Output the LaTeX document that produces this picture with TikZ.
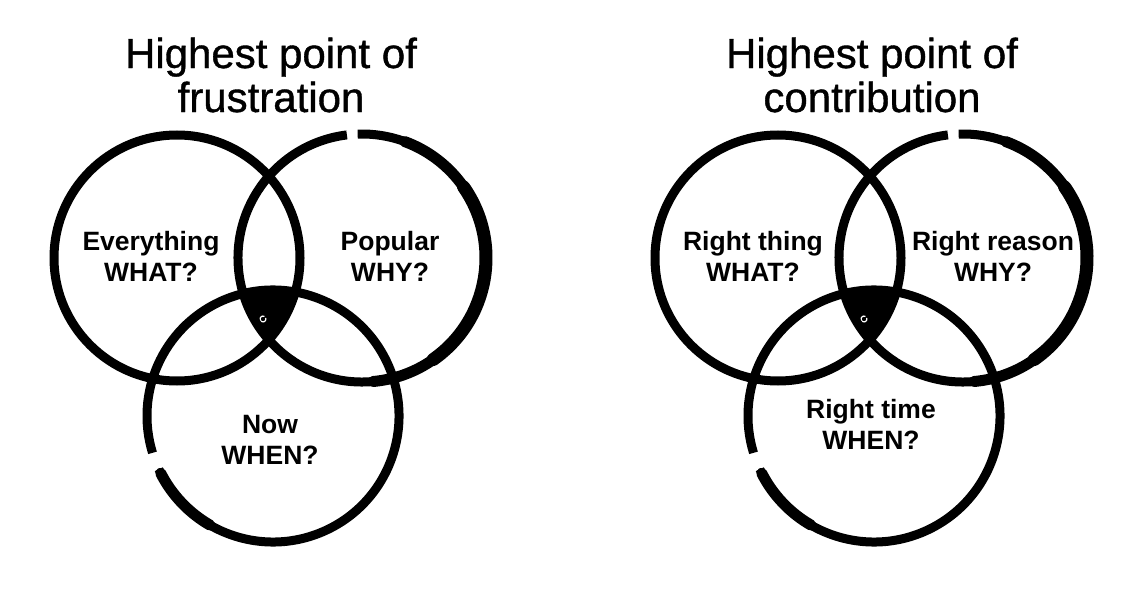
\documentclass[tikz,border=0pt]{standalone}
\usepackage{fontspec}
\setmainfont{Liberation Sans}
\newfontfamily\titlefont[FakeBold=0.9]{Liberation Sans}
\begin{document}
\begin{tikzpicture}[x=1pt, y=1pt,
    venn ring/.style={line width=9pt},
    brush/.style={line width=13pt, line cap=round},
    label node/.style={align=center, font=\fontsize{26.5}{31}\selectfont\bfseries},
    title node/.style={align=center, font=\titlefont\fontsize{42}{44}\selectfont}]
        \useasboundingbox (0,0) rectangle (1136,598);

          % frustration
          \coordinate (w1) at (177,340);
          \coordinate (y1) at (362,340);
          \coordinate (n1) at (273,182);
          \begin{scope}
            \clip (w1) circle (123);
            \clip (y1) circle (124);
            \fill (n1) circle (126);
          \end{scope}
          \draw[white, line width=1.2pt] (263,279) ++(60:3) arc[start angle=60, end angle=380, radius=3];
          \draw[venn ring] (w1) circle (123);
          \draw[venn ring] (y1) ++(97:124) arc[start angle=97, end angle=452, radius=124];
          \draw[brush, line width=11pt] (y1) ++(-85:124) arc[start angle=-85, end angle=70, radius=124];
          \draw[brush] (y1) ++(-55:124) arc[start angle=-55, end angle=35, radius=124];
          \draw[venn ring] (n1) ++(205:126) arc[start angle=205, end angle=557, radius=126];
          \draw[brush, line width=11pt] (n1) ++(207:126) arc[start angle=207, end angle=240, radius=126];

          \node[title node] (1) at (271,523) {Highest point of\\frustration};
          \node[label node] (2) at (151,342) {Everything\\WHAT?};
          \node[label node] (3) at (390,342) {Popular\\WHY?};
          \node[label node] (4) at (270,158) {Now\\WHEN?};

          % contribution
          \coordinate (w2) at (778,340);
          \coordinate (y2) at (963,340);
          \coordinate (n2) at (874,182);
          \begin{scope}
            \clip (w2) circle (123);
            \clip (y2) circle (124);
            \fill (n2) circle (126);
          \end{scope}
          \draw[white, line width=1.2pt] (864,279) ++(60:3) arc[start angle=60, end angle=380, radius=3];
          \draw[venn ring] (w2) circle (123);
          \draw[venn ring] (y2) ++(97:124) arc[start angle=97, end angle=452, radius=124];
          \draw[brush, line width=11pt] (y2) ++(-85:124) arc[start angle=-85, end angle=70, radius=124];
          \draw[brush] (y2) ++(-55:124) arc[start angle=-55, end angle=35, radius=124];
          \draw[venn ring] (n2) ++(205:126) arc[start angle=205, end angle=557, radius=126];
          \draw[brush, line width=11pt] (n2) ++(207:126) arc[start angle=207, end angle=240, radius=126];

          \node[title node] (5) at (872,523) {Highest point of\\contribution};
          \node[label node] (6) at (753,342) {Right thing\\WHAT?};
          \node[label node] (7) at (993,342) {Right reason\\WHY?};
          \node[label node] (8) at (871,174) {Right time\\WHEN?};

        \end{tikzpicture}
\end{document}
